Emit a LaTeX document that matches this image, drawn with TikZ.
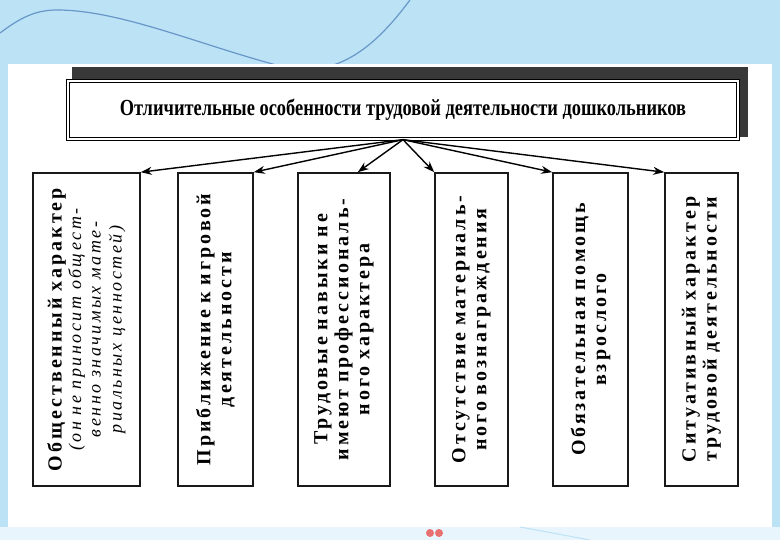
\documentclass[tikz,border=0pt]{standalone}
\usepackage{fontspec}
\setmainfont{Liberation Serif}
\newfontfamily\headfont[FakeStretch=0.8]{Liberation Serif}
\newfontfamily\spacedfont[LetterSpace=15]{Liberation Serif}
\newfontfamily\spaceditfont[LetterSpace=14]{Liberation Serif}
\usetikzlibrary{arrows.meta}
\definecolor{slideblue}{RGB}{188,226,246}
\definecolor{waveblue}{RGB}{104,152,200}
\definecolor{heartred}{RGB}{232,112,112}
\newcommand{\wordgap}[1]{\fontdimen2\font=#1\relax}
\tikzset{headbox/.style={rectangle, draw=black, line width=1.3pt, double=white, double distance=2.2pt, fill=white, minimum width=670pt, minimum height=58pt, inner sep=0pt}}
\tikzset{traitbox/.style={rectangle, draw=black!90, line width=1.6pt, fill=white, rotate=90, minimum width=313pt, inner sep=0pt, text width=310pt, align=center, font=\spacedfont\fontsize{20}{21}\selectfont\bfseries, execute at begin node={\wordgap{10pt}}}}
\tikzset{link/.style={line width=1.4pt, -{Stealth[length=11pt,width=8pt]}}}

\begin{document}
\begin{tikzpicture}[x=1pt, y=-1pt]
    \useasboundingbox (0,0) rectangle (780,540);
    % slide background
    \fill[slideblue] (0,0) rectangle (780,540);
    \draw[waveblue, line width=1.2pt] (0,33) .. controls (20,18) and (35,10) .. (57,10) .. controls (120,10) and (200,45) .. (280,66) .. controls (340,82) and (380,40) .. (410,0);
    \fill[white] (8,64) rectangle (772,527);
    \fill[slideblue!35] (0,527) rectangle (780,540);
    \draw[slideblue, line width=1pt] (520,527) -- (590,540);
    \fill[heartred] (430,533) circle (4) (439,533) circle (4);

    % header with its shadow
    \fill[black!78] (72,67) rectangle (748,137);
    \node [headbox](head) at (403,110){\headfont\fontsize{23}{26}\selectfont\bfseries Отличительные особенности трудовой деятельности дошкольников};

    \node [traitbox, minimum height=107pt](b1) at (86.5,329.5){Общественный характер\\ \spaceditfont\mdseries\itshape\fontsize{18}{19.5}\selectfont\wordgap{9pt}(он не приносит общест-\\ венно значимых мате-\\ риальных ценностей)};
    \node [traitbox, minimum height=75pt](b2) at (215.5,329.5){Приближение к игровой\\ деятельности};
    \node [traitbox, minimum height=92pt](b3) at (344,329.5){Трудовые навыки не\\ имеют профессиональ-\\ ного характера};
    \node [traitbox, minimum height=73pt](b4) at (471.5,329.5){Отсутствие материаль-\\ ного вознаграждения};
    \node [traitbox, minimum height=75pt](b5) at (590.5,329.5){Обязательная помощь\\ взрослого};
    \node [traitbox, minimum height=73pt](b6) at (701.5,329.5){Ситуативный характер\\ трудовой деятельности};

    \draw[link] (head.south) -- (b1.south east);
    \draw[link] (head.south) -- (b2.south east);
    \draw[link] (head.south) -- (b3.-5);
    \draw[link] (head.south) -- (b4.north east);
    \draw[link] (head.south) -- (b5.north east);
    \draw[link] (head.south) -- (b6.north east);
\end{tikzpicture}
\end{document}
